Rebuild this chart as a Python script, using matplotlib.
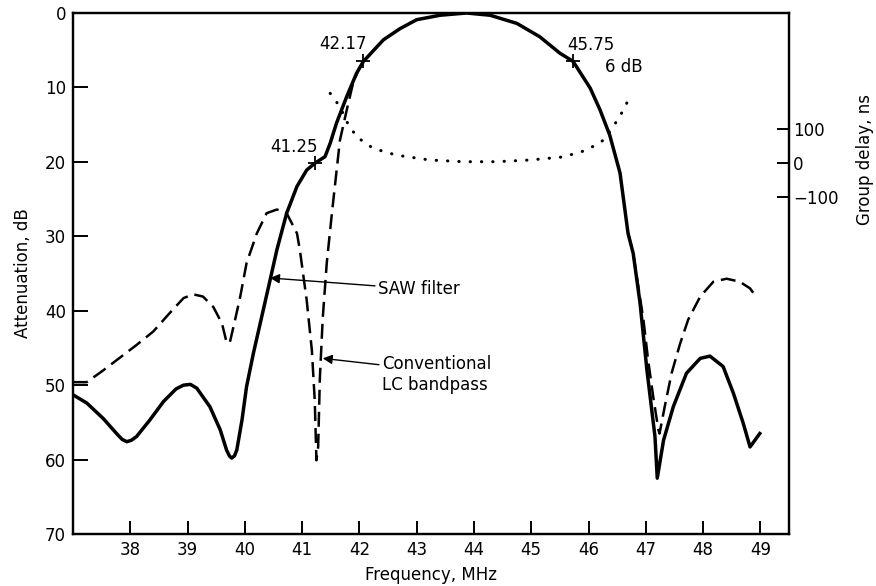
import numpy as np
import matplotlib
matplotlib.use("Agg")
import matplotlib.pyplot as plt

plt.rcParams['font.family'] = ['DejaVu Sans']
plt.rcParams['font.size'] = 12

# SAW filter attenuation (solid), MHz / dB
saw_f = [37.0, 37.24, 37.53, 37.76, 37.86, 37.94, 38.02, 38.11, 38.34, 38.58,
         38.80, 38.93, 39.05, 39.16, 39.39, 39.57, 39.68, 39.73, 39.77, 39.82,
         39.86, 39.95, 40.03, 40.15, 40.44, 40.56, 40.73, 40.91, 41.08, 41.22,
         41.40, 41.49, 41.60, 41.78, 41.95, 42.07, 42.42, 42.71, 43.00, 43.41,
         43.87, 44.28, 44.75, 45.15, 45.50, 45.73, 46.03, 46.20, 46.37, 46.55,
         46.69, 46.78, 46.90, 47.02, 47.16, 47.20, 47.31, 47.48, 47.71, 47.95,
         48.12, 48.35, 48.53, 48.70, 48.82, 48.99]
saw_db = [51.3, 52.4, 54.5, 56.5, 57.3, 57.6, 57.4, 56.9, 54.7, 52.2,
          50.5, 50.0, 49.9, 50.4, 52.9, 56.0, 58.7, 59.5, 59.8, 59.5,
          58.7, 54.7, 50.2, 45.7, 35.9, 31.8, 26.9, 23.3, 21.1, 20.2,
          19.3, 17.5, 14.8, 11.2, 8.1, 6.5, 3.6, 2.1, 0.9, 0.3,
          0.0, 0.3, 1.4, 3.2, 5.4, 6.5, 10.1, 13.0, 16.4, 21.5,
          29.6, 32.3, 39.0, 48.0, 56.9, 62.5, 57.4, 52.9, 48.4, 46.4,
          46.1, 47.5, 51.1, 55.1, 58.3, 56.5]

# conventional LC bandpass (dashed), below and above the passband
lc_lo_f = [37.0, 37.24, 37.53, 37.82, 38.11, 38.40, 38.69, 38.93, 39.10, 39.27,
           39.45, 39.60, 39.68, 39.71, 39.74, 39.83, 39.92, 40.03, 40.21, 40.38,
           40.56, 40.73, 40.91, 40.96, 41.08, 41.17, 41.22, 41.25, 41.28, 41.31,
           41.36, 41.43, 41.52, 41.66, 41.78, 41.89, 41.98, 42.07]
lc_lo_db = [49.6, 49.6, 48.0, 46.3, 44.6, 42.8, 40.3, 38.3, 37.8, 38.1,
            39.5, 41.7, 44.2, 44.4, 44.2, 41.2, 38.1, 33.6, 29.6, 26.9,
            26.4, 26.9, 29.6, 31.8, 38.6, 45.3, 52.0, 60.1, 58.3, 49.0,
            41.0, 33.6, 26.9, 17.1, 13.0, 9.4, 7.7, 6.5]
lc_hi_f = [46.69, 46.78, 46.87, 46.96, 47.04, 47.13, 47.22, 47.24, 47.33, 47.45,
           47.60, 47.74, 47.95, 48.18, 48.41, 48.64, 48.82, 48.94]
lc_hi_db = [29.6, 32.3, 36.8, 41.3, 46.6, 51.6, 56.0, 56.5, 52.9, 48.4,
            44.4, 41.2, 38.1, 36.1, 35.7, 36.1, 37.0, 38.3]

# group delay (dotted), ns
gd_f = [41.49, 41.66, 41.78, 41.95, 42.24, 42.65, 43.23, 43.81, 44.40, 44.98,
        45.56, 45.97, 46.26, 46.43, 46.61, 46.72]
gd_ns = [204, 165, 121, 77, 43, 23, 9, 4, 4, 9,
         18, 38, 67, 106, 155, 194]

# marked points on the SAW curve
mark_f = [41.22, 42.07, 45.73]
mark_db = [20.2, 6.5, 6.5]

x_ticks = list(range(38, 50))
y_ticks = list(range(0, 80, 10))
gd_ticks = [-100, 0, 100]
gd_labels = ['\u2212100', '0', '100']

fig = plt.figure(figsize=(8.76, 5.86), dpi=100)
ax = fig.add_axes([73 / 876, 52 / 586, 716 / 876, 521 / 586])

ax.plot(saw_f, saw_db, color='k', lw=2.5, solid_joinstyle='round', zorder=3)
ax.plot(lc_lo_f, lc_lo_db, color='k', lw=1.8, ls=(0, (6, 2.8)), zorder=2)
ax.plot(lc_hi_f, lc_hi_db, color='k', lw=1.8, ls=(0, (6, 2.8)), zorder=2)
ax.plot(mark_f, mark_db, ls='none', marker='+', ms=10, mew=1.3, color='k', zorder=4)

ax.set_xlim(37, 49.5)
ax.set_ylim(70, 0)
ax.set_xticks(x_ticks)
ax.set_yticks(y_ticks)
ax.tick_params(axis='y', direction='in', length=11, width=1.4, pad=5, right=False)
ax.tick_params(axis='x', direction='in', length=9.5, width=1.4, pad=5, top=False)
for s in ax.spines.values():
    s.set_linewidth(1.6)
ax.set_xlabel('Frequency, MHz', labelpad=5)
ax.set_ylabel('Attenuation, dB', labelpad=9)

ax.text(41.71, 4.2, '42.17', ha='center', va='center')
ax.text(40.86, 18.0, '41.25', ha='center', va='center')
ax.text(46.04, 4.3, '45.75', ha='center', va='center')
ax.text(46.62, 7.3, '6 dB', ha='center', va='center')

ax.annotate('SAW filter', xy=(40.44, 35.6), xytext=(42.32, 37.1),
            ha='left', va='center',
            arrowprops=dict(arrowstyle='-|>', color='k', lw=1.0,
                            mutation_scale=14, shrinkA=0, shrinkB=0))
ax.annotate('Conventional\nLC bandpass', xy=(41.36, 46.4), xytext=(42.39, 48.6),
            ha='left', va='center', linespacing=1.2,
            arrowprops=dict(arrowstyle='-|>', color='k', lw=1.0,
                            mutation_scale=14, shrinkA=0, shrinkB=0,
                            relpos=(0, 0.75)))

ax2 = ax.twinx()
ax2.plot(gd_f, gd_ns, color='k', lw=2.2, ls=(0, (0.1, 3.6)),
         dash_capstyle='round')
ax2.set_ylim(-1085, 439)
ax2.set_yticks(gd_ticks)
ax2.set_yticklabels(gd_labels)
ax2.tick_params(axis='y', direction='in', length=8.5, width=1.4, pad=3)
for s in ax2.spines.values():
    s.set_linewidth(1.6)
ax2.set_ylabel('Group delay, ns')
ax2.yaxis.set_label_coords(1.094, 0.718)

fig.savefig('out.png', dpi=100)
